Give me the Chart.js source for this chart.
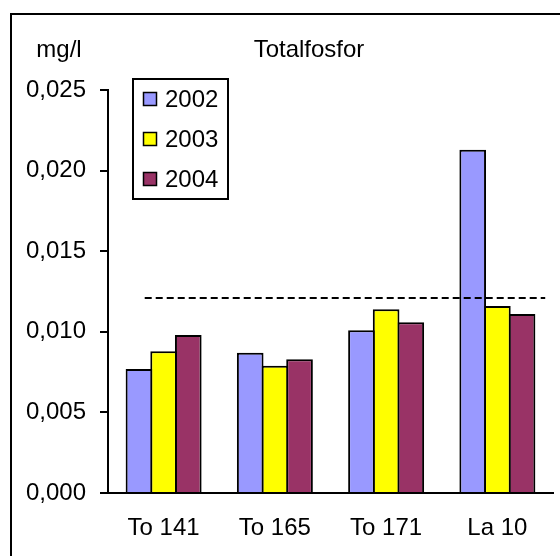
<!DOCTYPE html>
<html>
<head>
<meta charset="utf-8">
<script src="https://cdn.jsdelivr.net/npm/chart.js@4/dist/chart.umd.min.js"></script>
<style>
  html, body { margin: 0; padding: 0; background: #fff; }
  #wrap { width: 560px; height: 556px; position: relative; }
</style>
</head>
<body>
<div id="wrap"><canvas id="c" width="560" height="556"></canvas></div>
<script>
// ---- data ----
const categories = ['To 141', 'To 165', 'To 171', 'La 10'];
const seriesNames = ['2002', '2003', '2004'];
const values2002 = [0.0077, 0.0087, 0.0101, 0.0213];
const values2003 = [0.0088, 0.0079, 0.0114, 0.0116];
const values2004 = [0.0098, 0.0083, 0.0106, 0.0111];
const seriesColors = ['#9999FF', '#FFFF00', '#993366'];
const yTickLabels = ['0,000', '0,005', '0,010', '0,015', '0,020', '0,025'];
const limitValue = 0.0121;          // dashed reference line
const limitSpan = [-0.17, 3.43];    // in category units
const chartTitle = 'Totalfosfor';
const unitLabel = 'mg/l';

const FONT = '"Liberation Sans", Arial, sans-serif';
const FS = 24;

const decorPlugin = {
  id: 'decor',
  beforeDraw(chart) {
    const ctx = chart.ctx;
    ctx.save();
    ctx.fillStyle = '#fff';
    ctx.fillRect(0, 0, chart.width, chart.height);
    ctx.strokeStyle = '#000';
    ctx.lineWidth = 2;
    ctx.strokeRect(11, 14, 600, 600);
    ctx.restore();
  },
  afterDatasetsDraw(chart) {
    // dashed limit line, positioned through the chart's own scales
    const ctx = chart.ctx;
    const xs = chart.scales.x, ys = chart.scales.y;
    const yPix = ys.getPixelForValue(limitValue);
    ctx.save();
    ctx.strokeStyle = '#000';
    ctx.lineWidth = 2;
    ctx.setLineDash([7, 4]);
    ctx.beginPath();
    ctx.moveTo(xs.getPixelForValue(limitSpan[0]), yPix);
    ctx.lineTo(xs.getPixelForValue(limitSpan[1]), yPix);
    ctx.stroke();
    ctx.restore();
  },
  afterDraw(chart) {
    const ctx = chart.ctx;
    ctx.save();
    ctx.fillStyle = '#000';
    ctx.font = FS + 'px ' + FONT;
    ctx.textBaseline = 'alphabetic';
    ctx.textAlign = 'center';
    ctx.fillText(unitLabel, 59, 57);
    ctx.fillText(chartTitle, 309, 57);
    // legend box
    const bx = 133, by = 79, bw = 95, bh = 120;
    ctx.fillStyle = '#fff';
    ctx.fillRect(bx, by, bw, bh);
    ctx.strokeStyle = '#000';
    ctx.lineWidth = 2;
    ctx.strokeRect(bx, by, bw, bh);
    ctx.textAlign = 'left';
    ctx.textBaseline = 'middle';
    seriesNames.forEach((name, i) => {
      const cy = 99 + i * 40;
      ctx.fillStyle = seriesColors[i];
      ctx.fillRect(143.5, cy - 6.5, 13, 13);
      ctx.lineWidth = 1.5;
      ctx.strokeStyle = '#000';
      ctx.strokeRect(143.5, cy - 6.5, 13, 13);
      ctx.fillStyle = '#000';
      ctx.fillText(name, 165, cy + 1);
    });
    ctx.restore();
  }
};

const barStyle = (i) => ({
  backgroundColor: seriesColors[i],
  borderColor: '#000',
  borderWidth: 2,
  borderSkipped: 'start',
  inflateAmount: 0,
  categoryPercentage: 0.665,
  barPercentage: 1.081
});

new Chart(document.getElementById('c'), {
  type: 'bar',
  data: {
    labels: categories,
    datasets: [
      Object.assign({ label: seriesNames[0], data: values2002 }, barStyle(0)),
      Object.assign({ label: seriesNames[1], data: values2003 }, barStyle(1)),
      Object.assign({ label: seriesNames[2], data: values2004 }, barStyle(2))
    ]
  },
  options: {
    responsive: false,
    animation: false,
    events: [],
    layout: { padding: { left: 0, top: 90, right: 7, bottom: 0 } },
    plugins: { legend: { display: false }, tooltip: { enabled: false }, title: { display: false } },
    scales: {
      x: {
        type: 'category',
        offset: true,
        grid: { display: true, drawOnChartArea: false, drawTicks: false },
        border: { display: true, color: '#000', width: 2 },
        ticks: { color: '#000', font: { family: FONT, size: FS }, padding: 21, maxRotation: 0, autoSkip: false },
        afterFit(s) { s.height = 63; }
      },
      y: {
        type: 'linear',
        min: 0,
        max: 0.025,
        grid: { drawOnChartArea: false, drawTicks: true, tickLength: 8, color: '#000', lineWidth: 2 },
        border: { display: true, color: '#000', width: 2 },
        ticks: {
          stepSize: 0.005,
          color: '#000',
          padding: 14,
          font: { family: FONT, size: FS },
          callback: (v, i) => yTickLabels[i]
        },
        afterFit(s) { s.width = 108; }
      }
    }
  },
  plugins: [decorPlugin]
});
</script>
</body>
</html>
